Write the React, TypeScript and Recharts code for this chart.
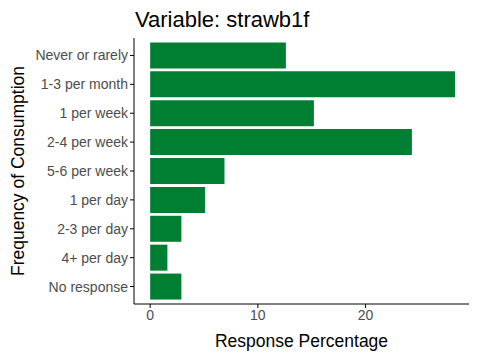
import { BarChart, Bar, XAxis, YAxis } from "recharts";

const categories = [
  "Never or rarely",
  "1-3 per month",
  "1 per week",
  "2-4 per week",
  "5-6 per week",
  "1 per day",
  "2-3 per day",
  "4+ per day",
  "No response",
];
const percentages = [12.6, 28.3, 15.2, 24.3, 6.9, 5.1, 2.9, 1.6, 2.9];
const xTicks = [0, 10, 20];

const data = categories.map((c, i) => ({ cat: c, pct: percentages[i] }));

const font = "Liberation Sans, Arial, sans-serif";

export default function App() {
  return (
    <div style={{ position: "absolute", left: 0, top: 0, width: 480, height: 360, background: "#fff", fontFamily: font }}>
      <div style={{ position: "absolute", left: 135, top: 7, fontSize: 22, color: "#000" }}>
        Variable: strawb1f
      </div>
      <BarChart
        width={480}
        height={360}
        data={data}
        layout="vertical"
        margin={{ top: 38, right: 11, bottom: 26, left: 0 }}
        barCategoryGap="5%"
      >
        <XAxis
          type="number"
          domain={[-1.5, 29.6]}
          ticks={xTicks}
          allowDataOverflow
          stroke="#000"
          tickSize={4}
          height={30}
          tick={{ fill: "#4d4d4d", fontSize: 14, fontFamily: font }}
          label={{ value: "Response Percentage", position: "insideBottom", offset: -13, fill: "#000", fontSize: 17.5, fontFamily: font }}
        />
        <YAxis
          type="category"
          dataKey="cat"
          width={134}
          padding={{ top: 3, bottom: 3 }}
          stroke="#000"
          tickSize={4}
          tick={{ fill: "#4d4d4d", fontSize: 14, fontFamily: font }}
          label={{ value: "Frequency of Consumption", angle: -90, position: "insideLeft", offset: 18, fill: "#000", fontSize: 17.5, fontFamily: font, style: { textAnchor: "middle" } }}
        />
        <Bar dataKey="pct" fill="#007f33" isAnimationActive={false} />
      </BarChart>
    </div>
  );
}
